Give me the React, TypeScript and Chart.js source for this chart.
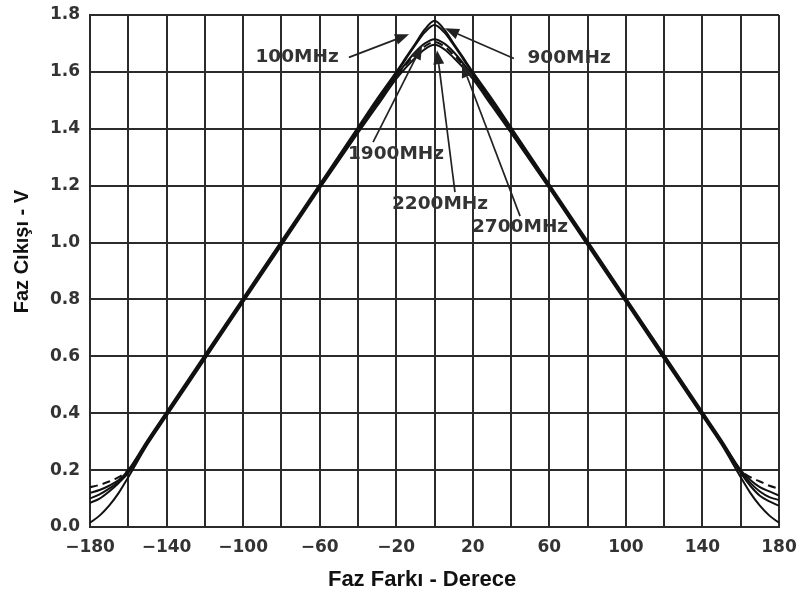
import React, { useEffect, useRef } from "react";
import { Chart, registerables } from "chart.js";

Chart.register(...registerables);

// Phase difference (degrees)
const phaseDeg = [-180, -175, -170, -165, -160, -150, -140, -120, -100, -80, -60, -40, -30, -20, -15, -10, -5, 0, 5, 10, 15, 20, 30, 40, 60, 80, 100, 120, 140, 150, 160, 165, 170, 175, 180];

// Output voltage (V) per frequency
const v100MHz = [0.12, 0.13, 0.145, 0.165, 0.2, 0.305, 0.405, 0.605, 0.805, 1.005, 1.205, 1.405, 1.505, 1.6, 1.65, 1.70, 1.75, 1.78, 1.75, 1.70, 1.65, 1.60, 1.505, 1.405, 1.205, 1.005, 0.805, 0.605, 0.405, 0.305, 0.2, 0.165, 0.14, 0.125, 0.11];
const v900MHz = [0.10, 0.115, 0.135, 0.16, 0.195, 0.3, 0.4, 0.6, 0.8, 1.0, 1.2, 1.4, 1.5, 1.595, 1.645, 1.695, 1.74, 1.765, 1.74, 1.695, 1.645, 1.595, 1.5, 1.4, 1.2, 1.0, 0.8, 0.6, 0.4, 0.3, 0.195, 0.155, 0.125, 0.105, 0.095];
const v1900MHz = [0.085, 0.10, 0.125, 0.155, 0.19, 0.295, 0.395, 0.595, 0.795, 0.995, 1.195, 1.39, 1.49, 1.585, 1.63, 1.67, 1.70, 1.715, 1.70, 1.67, 1.63, 1.585, 1.49, 1.39, 1.195, 0.995, 0.795, 0.595, 0.395, 0.295, 0.19, 0.145, 0.11, 0.09, 0.075];
const v2200MHz = [0.015, 0.04, 0.075, 0.12, 0.175, 0.29, 0.39, 0.59, 0.79, 0.99, 1.19, 1.385, 1.48, 1.575, 1.615, 1.65, 1.68, 1.695, 1.68, 1.65, 1.615, 1.575, 1.48, 1.385, 1.19, 0.99, 0.79, 0.59, 0.39, 0.29, 0.175, 0.12, 0.075, 0.04, 0.015];
const v2700MHz = [0.14, 0.148, 0.16, 0.175, 0.2, 0.3, 0.4, 0.6, 0.8, 1.0, 1.195, 1.395, 1.49, 1.585, 1.625, 1.66, 1.69, 1.705, 1.69, 1.66, 1.625, 1.585, 1.49, 1.395, 1.195, 1.0, 0.8, 0.6, 0.4, 0.3, 0.2, 0.175, 0.16, 0.145, 0.135];

const seriesNames = ["100MHz", "900MHz", "1900MHz", "2200MHz", "2700MHz"];
const seriesValues = [v100MHz, v900MHz, v1900MHz, v2200MHz, v2700MHz];
const seriesDashed = [false, false, false, false, true];

// Annotation labels (data coordinates)
const labelText = ["100MHz", "900MHz", "1900MHz", "2200MHz", "2700MHz"];
const labelX = [-71.8, 70.3, -20.1, 2.9, 44.7];
const labelY = [1.651, 1.647, 1.311, 1.135, 1.054];
const arrowFromX = [-44.7, 41.5, -32.1, 10.7, 44.7];
const arrowFromY = [1.651, 1.647, 1.353, 1.177, 1.093];
const arrowToX = [-13.3, 5.5, -6.5, 1.3, 14.4];
const arrowToY = [1.732, 1.753, 1.693, 1.676, 1.63];

const xTitle = "Faz Farkı - Derece";
const yTitle = "Faz Cıkışı - V";

const annotationPlugin = {
  id: "freqAnnotations",
  afterDatasetsDraw(chart: any) {
    const { ctx, scales } = chart;
    const xs = scales.x;
    const ys = scales.y;
    ctx.save();
    ctx.strokeStyle = "#222";
    ctx.fillStyle = "#222";
    ctx.lineWidth = 1.7;
    for (let i = 0; i < labelText.length; i++) {
      const x0 = xs.getPixelForValue(arrowFromX[i]);
      const y0 = ys.getPixelForValue(arrowFromY[i]);
      const x1 = xs.getPixelForValue(arrowToX[i]);
      const y1 = ys.getPixelForValue(arrowToY[i]);
      const ang = Math.atan2(y1 - y0, x1 - x0);
      const len = 14;
      const hw = 5.5;
      const bx = x1 - len * Math.cos(ang);
      const by = y1 - len * Math.sin(ang);
      ctx.beginPath();
      ctx.moveTo(x0, y0);
      ctx.lineTo(bx, by);
      ctx.stroke();
      ctx.beginPath();
      ctx.moveTo(x1, y1);
      ctx.lineTo(bx + hw * Math.sin(ang), by - hw * Math.cos(ang));
      ctx.lineTo(bx - hw * Math.sin(ang), by + hw * Math.cos(ang));
      ctx.closePath();
      ctx.fill();
    }
    ctx.font = "bold 18.5px 'DejaVu Sans'";
    ctx.fillStyle = "#333";
    ctx.textAlign = "center";
    ctx.textBaseline = "middle";
    for (let i = 0; i < labelText.length; i++) {
      ctx.fillText(labelText[i], xs.getPixelForValue(labelX[i]), ys.getPixelForValue(labelY[i]));
    }
    ctx.restore();
  },
  afterDraw(chart: any) {
    const { ctx, chartArea } = chart;
    ctx.save();
    ctx.fillStyle = "#111";
    ctx.textAlign = "center";
    ctx.textBaseline = "middle";
    ctx.font = "bold 22px 'Liberation Sans'";
    ctx.fillText(xTitle, chartArea.left + (chartArea.right - chartArea.left) * 0.482, 580);
    ctx.translate(22, chartArea.top + (chartArea.bottom - chartArea.top) * 0.462);
    ctx.rotate(-Math.PI / 2);
    ctx.font = "bold 20px 'Liberation Sans'";
    ctx.fillText(yTitle, 0, 0);
    ctx.restore();
  },
};

export default function App() {
  const canvasRef = useRef<HTMLCanvasElement | null>(null);

  useEffect(() => {
    if (!canvasRef.current) return;
    const datasets = seriesNames.map((name, i) => ({
      label: name,
      data: phaseDeg.map((x, j) => ({ x, y: seriesValues[i][j] })),
      borderColor: "#111",
      borderWidth: 2,
      borderDash: seriesDashed[i] ? [8, 5] : [],
      pointRadius: 0,
      fill: false,
      cubicInterpolationMode: "monotone" as const,
    }));
    const tickFont = { family: "'DejaVu Sans'", size: 17, weight: "bold" as const };
    const chart = new Chart(canvasRef.current, {
      type: "line",
      data: { datasets },
      plugins: [annotationPlugin],
      options: {
        animation: false,
        responsive: false,
        maintainAspectRatio: false,
        layout: { padding: { top: 15, right: 22, left: 0, bottom: 0 } },
        plugins: { legend: { display: false }, tooltip: { enabled: false } },
        scales: {
          x: {
            type: "linear",
            min: -180,
            max: 180,
            afterFit: (s: any) => {
              s.height = 70;
              s.paddingLeft = 0;
              s.paddingRight = 0;
            },
            ticks: {
              stepSize: 20,
              autoSkip: false,
              maxRotation: 0,
              padding: 10,
              color: "#333",
              font: tickFont,
              callback: (v: any) => {
                const n = Math.round(Number(v));
                return (n + 180) % 40 === 0 ? String(n).replace("-", "\u2212") : "";
              },
            },
            grid: { color: "#2b2b2b", lineWidth: 2, drawTicks: false },
            border: { color: "#2b2b2b", width: 2 },
          },
          y: {
            type: "linear",
            min: 0,
            max: 1.8,
            afterFit: (s: any) => {
              s.width = 90;
              s.paddingTop = 0;
              s.paddingBottom = 0;
            },
            ticks: {
              stepSize: 0.2,
              padding: 10,
              color: "#333",
              font: tickFont,
              callback: (v: any) => Number(v).toFixed(1),
            },
            grid: { color: "#2b2b2b", lineWidth: 2, drawTicks: false },
            border: { color: "#2b2b2b", width: 2 },
          },
        },
      },
    });
    return () => chart.destroy();
  }, []);

  return (
    <div style={{ position: "absolute", left: 0, top: 0, width: 801, height: 597, background: "#fff" }}>
      <canvas ref={canvasRef} width={801} height={597} />
    </div>
  );
}
